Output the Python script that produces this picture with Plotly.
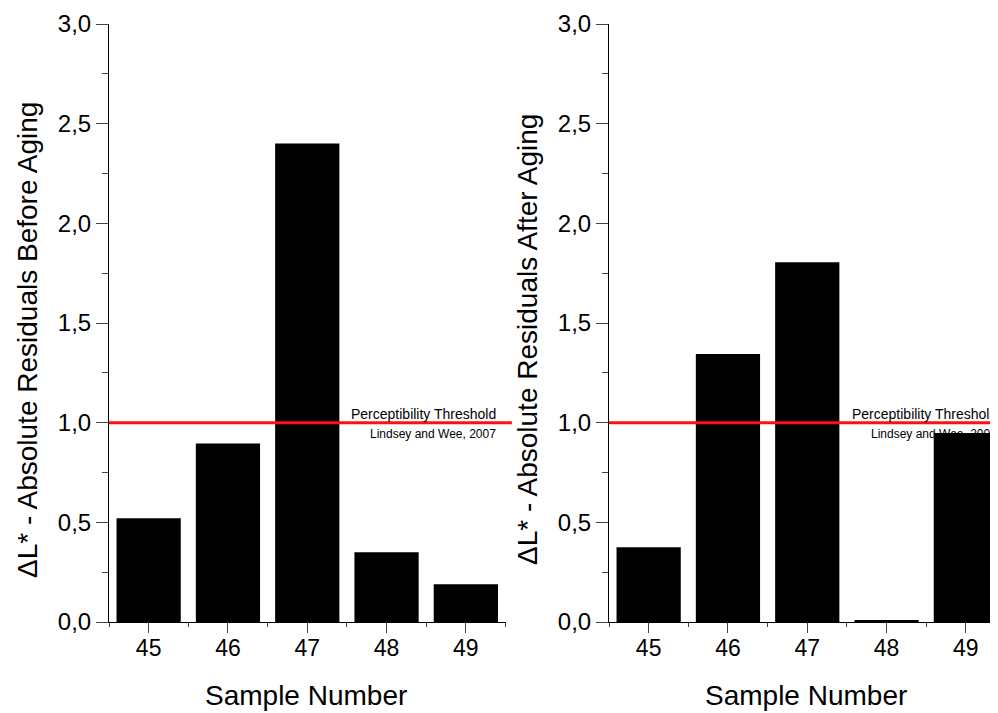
import plotly.graph_objects as go

samples = [45, 46, 47, 48, 49]
before_aging = [0.52, 0.895, 2.40, 0.35, 0.19]
after_aging = [0.375, 1.345, 1.805, 0.01, 0.948]
threshold = 1.0
y_ticks = [0.0, 0.5, 1.0, 1.5, 2.0, 2.5, 3.0]
y_title_left = "ΔL* - Absolute Residuals Before Aging"
y_title_right = "ΔL* - Absolute Residuals After Aging"
x_title = "Sample Number"
thr_label = "Perceptibility Threshold"
thr_ref = "Lindsey and Wee, 2007"

# page body has an 8px margin: lay out in screen pixels, shifted by OFF
OFF = 8
W, H = 998 - OFF, 713 - OFF
FONT = "Liberation Sans, Arial, sans-serif"

def px(v):
    return (v - OFF) / W

def py(v):
    return (H - (v - OFF)) / H

PITCH = 79.3
xdom1 = [px(109), px(109 + 5 * PITCH)]
xdom2 = [px(609), 1.0]
x2_end = 44.5 + (998 - 609) / PITCH
ydom = [py(622), py(24)]

fig = go.Figure()
fig.add_trace(go.Bar(x=samples, y=before_aging, width=0.81, marker=dict(color="black", line=dict(width=0)),
                     xaxis="x", yaxis="y", showlegend=False))
fig.add_trace(go.Bar(x=samples, y=after_aging, width=0.81, marker=dict(color="black", line=dict(width=0)),
                     xaxis="x2", yaxis="y2", showlegend=False))

TICKC = "#444"
xaxis_common = dict(
    showgrid=False, zeroline=False, showline=True, linecolor="black", linewidth=1, automargin=False,
    tickmode="array", tickvals=samples, ticktext=[str(s) for s in samples],
    ticks="outside", ticklen=10, tickcolor=TICKC, tickwidth=1, ticklabelstandoff=-5,
    tickfont=dict(family=FONT, size=23, color="black"),
    minor=dict(ticks="outside", ticklen=4, tickcolor=TICKC, tickwidth=1,
               tickvals=[s - 0.5 for s in samples] + [samples[-1] + 0.5]),
)
yaxis_common = dict(
    range=[0, 3], showgrid=False, zeroline=False, showline=True, linecolor="black", linewidth=1, automargin=False,
    tickmode="array", tickvals=y_ticks, ticktext=[f"{v:.1f}".replace(".", ",") for v in y_ticks],
    ticks="outside", ticklen=12, tickcolor=TICKC, tickwidth=1,
    tickfont=dict(family=FONT, size=24, color="black"),
    minor=dict(ticks="outside", ticklen=6, tickcolor=TICKC, tickwidth=1, dtick=0.25, tick0=0),
)

fig.update_layout(
    width=W, height=H, margin=dict(l=0, r=0, t=0, b=0, autoexpand=False),
    paper_bgcolor="white", plot_bgcolor="white",
    separators=",.",
    xaxis=dict(domain=xdom1, range=[44.5, 49.5], anchor="y", **xaxis_common),
    yaxis=dict(domain=ydom, anchor="x", **yaxis_common),
    xaxis2=dict(domain=xdom2, range=[44.5, x2_end], anchor="y2", **xaxis_common),
    yaxis2=dict(domain=ydom, anchor="x2", **yaxis_common),
)

for xr, yr, ext in [("x", "y", 1.016), ("x2", "y2", 1.0)]:
    fig.add_shape(type="line", xref=f"{xr} domain", yref=yr, x0=0, x1=ext, y0=threshold, y1=threshold,
                  line=dict(color="#ff1010", width=3), layer="above")

# threshold labels (right edge 8.5px before the end of the category axis)
for xr, yr, xpos in [("x", "y", 49.5 - 8.5 / PITCH), ("x2", "y2", x2_end)]:
    fig.add_annotation(xref=xr, yref=yr, x=xpos, y=threshold, text=thr_label, showarrow=False,
                       xanchor="right", yanchor="bottom", yshift=0, borderpad=0,
                       font=dict(family=FONT, size=14, color="black"))
    fig.add_annotation(xref=xr, yref=yr, x=xpos, y=threshold, text=thr_ref, showarrow=False,
                       xanchor="right", yanchor="top", yshift=-3, borderpad=0,
                       font=dict(family=FONT, size=12, color="black"))

# axis titles
for xc, txt in [(27, y_title_left), (527, y_title_right)]:
    fig.add_annotation(xref="paper", yref="paper", x=px(xc), y=py(340), text=txt, textangle=-90,
                       showarrow=False, xanchor="center", yanchor="middle",
                       font=dict(family=FONT, size=28, color="black"))
for xc in [306, 806]:
    fig.add_annotation(xref="paper", yref="paper", x=px(xc), y=py(695), text=x_title,
                       showarrow=False, xanchor="center", yanchor="middle",
                       font=dict(family=FONT, size=28, color="black"))

fig.write_html("out.html")
